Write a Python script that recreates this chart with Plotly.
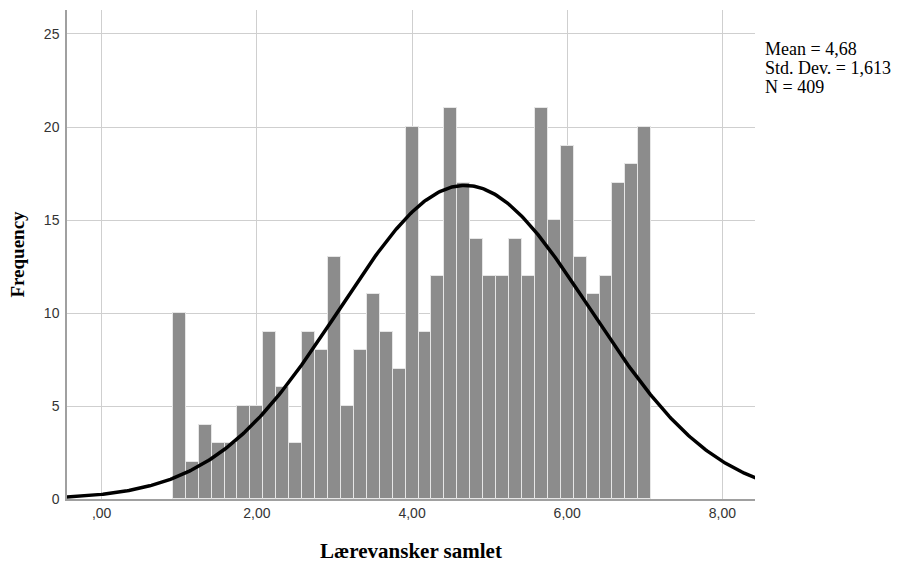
import numpy as np
import plotly.graph_objects as go

# Histogram data: bin centers (1.00 .. 7.00 step 1/6) and counts
bin_start = 1.0
bin_width = 1.0 / 6.0
counts = [10, 2, 4, 3, 3, 5, 5, 9, 6, 3, 9, 8, 13, 5, 8, 11, 9, 7, 20, 9,
          12, 21, 17, 14, 12, 12, 14, 12, 21, 15, 19, 13, 11, 12, 17, 18, 20]
centers = [bin_start + i * bin_width for i in range(len(counts))]

mean = 4.68
sd = 1.613
n = 409
stat_lines = ["Mean = 4,68", "Std. Dev. = 1,613", "N = 409"]

x_tick_vals = [0, 2, 4, 6, 8]
x_tick_text = [",00", "2,00", "4,00", "6,00", "8,00"]
y_tick_vals = [0, 5, 10, 15, 20, 25]

# Fitted normal curve (SPSS style) from mean / sd / N
xs = np.linspace(-0.45, 8.43, 400)
ys = n * bin_width * np.exp(-0.5 * ((xs - mean) / sd) ** 2) / (sd * np.sqrt(2 * np.pi))

fig = go.Figure()
fig.add_trace(go.Bar(
    x=centers, y=counts, width=bin_width,
    marker=dict(color="#8c8c8c", line=dict(color="#e6e6e6", width=1)),
    showlegend=False, hoverinfo="x+y",
))
fig.add_trace(go.Scatter(
    x=xs, y=ys, mode="lines",
    line=dict(color="black", width=3.5),
    showlegend=False, hoverinfo="skip",
))

annotations = []
for i, line in enumerate(stat_lines):
    annotations.append(dict(
        xref="paper", yref="paper", x=1.011, y=1 - (37 + 19 * i - 10) / 489.0,
        xanchor="left", yanchor="top", align="left", showarrow=False,
        text=line,
        font=dict(family="Liberation Serif, Times New Roman", size=18, color="black"),
    ))

fig.update_layout(
    width=902, height=568,
    margin=dict(l=67, r=147, t=10, b=69),
    paper_bgcolor="white", plot_bgcolor="white",
    bargap=0,
    xaxis=dict(
        range=[-0.447, 8.42], tickvals=x_tick_vals, ticktext=x_tick_text,
        showgrid=True, gridcolor="#cfcfcf", gridwidth=1,
        zeroline=False, showline=True, linecolor="#a0a0a0", linewidth=1.5,
        ticks="", tickfont=dict(family="Liberation Sans, Arial", size=14, color="#333333"),
        title=dict(text="<b>Lærevansker samlet</b>",
                   font=dict(family="Liberation Serif, Times New Roman", size=21, color="black"),
                   standoff=24),
    ),
    yaxis=dict(
        range=[0, 26.29], tickvals=y_tick_vals,
        showgrid=True, gridcolor="#cfcfcf", gridwidth=1,
        zeroline=False, showline=True, linecolor="#a0a0a0", linewidth=1.5,
        ticks="", ticklabelstandoff=3,
        tickfont=dict(family="Liberation Sans, Arial", size=14, color="#333333"),
        title=dict(text="<b>Frequency</b>",
                   font=dict(family="Liberation Serif, Times New Roman", size=19, color="black"),
                   standoff=14),
    ),
    annotations=annotations,
)

fig.write_html("out.html")
